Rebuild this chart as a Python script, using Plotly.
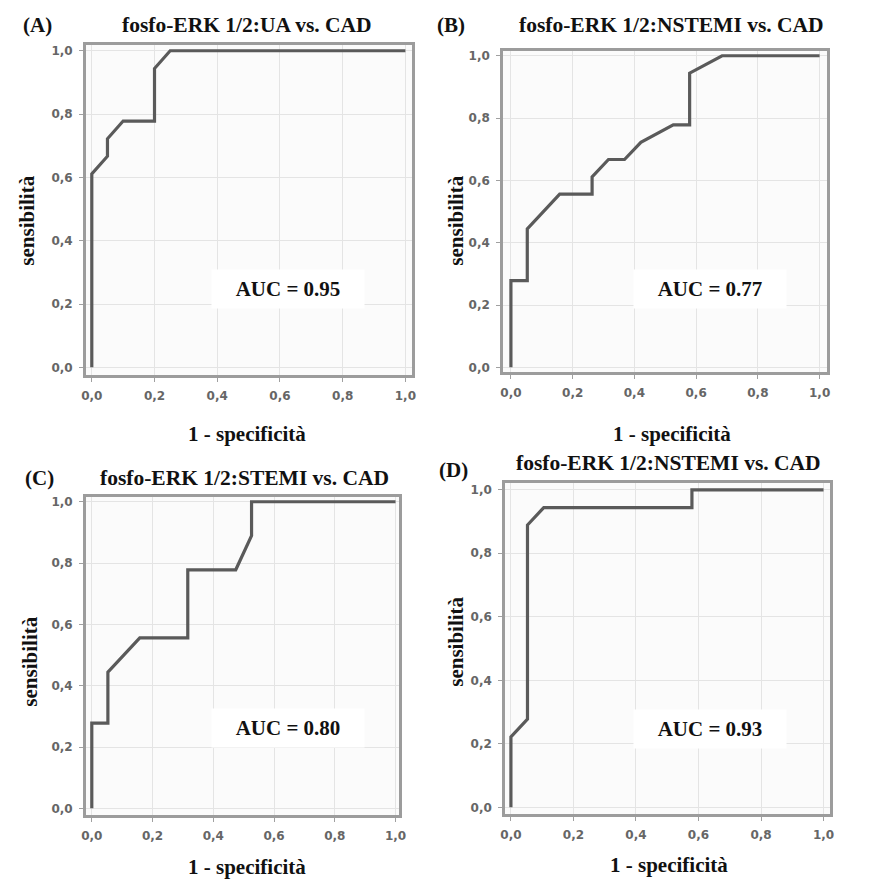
import plotly.graph_objects as go

W, H = 869, 882

# ROC curve data (1 - specificity, sensitivity)
fpr_a = [0, 0, 0.05, 0.05, 0.10, 0.20, 0.20, 0.25, 1.0]
tpr_a = [0, 0.611, 0.667, 0.722, 0.778, 0.778, 0.944, 1.0, 1.0]

fpr_b = [0, 0, 0.053, 0.053, 0.158, 0.263, 0.263, 0.316, 0.368, 0.421, 0.526, 0.579, 0.579, 0.684, 1.0]
tpr_b = [0, 0.278, 0.278, 0.444, 0.556, 0.556, 0.611, 0.667, 0.667, 0.722, 0.778, 0.778, 0.944, 1.0, 1.0]

fpr_c = [0, 0, 0.053, 0.053, 0.158, 0.316, 0.316, 0.474, 0.526, 0.526, 1.0]
tpr_c = [0, 0.278, 0.278, 0.444, 0.556, 0.556, 0.778, 0.778, 0.889, 1.0, 1.0]

fpr_d = [0, 0, 0.053, 0.053, 0.105, 0.579, 0.579, 1.0]
tpr_d = [0, 0.222, 0.278, 0.889, 0.944, 0.944, 1.0, 1.0]

panel_tags = ["(A)", "(B)", "(C)", "(D)"]
panel_titles = ["fosfo-ERK 1/2:UA vs. CAD", "fosfo-ERK 1/2:NSTEMI vs. CAD",
                "fosfo-ERK 1/2:STEMI vs. CAD", "fosfo-ERK 1/2:NSTEMI vs. CAD"]
auc_labels = ["AUC = 0.95", "AUC = 0.77", "AUC = 0.80", "AUC = 0.93"]
tick_vals = [0, 0.2, 0.4, 0.6, 0.8, 1.0]
tick_text = ["0,0", "0,2", "0,4", "0,6", "0,8", "1,0"]
x_title = "1 - specificità"
y_title = "sensibilità"

series = [(fpr_a, tpr_a), (fpr_b, tpr_b), (fpr_c, tpr_c), (fpr_d, tpr_d)]

# layout in pixels: box (left, right, top, bottom), x0px, x1px, y1px, y0px
boxes = [
    (82, 413, 43, 375, 88, 406, 49, 367),
    (505, 834, 49, 372, 513, 826, 54, 367),
    (82, 400, 497, 817, 88, 396, 502, 810),
    (507, 837, 483, 816, 513, 830, 490, 809),
]
tag_pos = [(33, 23), (452, 23), (35, 478), (455, 470)]
title_pos = [(245, 23), (676, 23), (243, 478), (673, 463)]
xtitle_pos = [(245, 434), (676, 434), (245, 869), (673, 867)]
ytitle_pos = [(22, 220), (457, 220), (25, 663), (457, 643)]
auc_pos = [(287, 288), (715, 288), (287, 729), (715, 730)]

fig = go.Figure()
serif = "Liberation Serif, Times New Roman, serif"
line_col = "#5a5a5a"
annotations = []

def px(x):
    return x / W

def py(y):
    return 1 - y / H

def ann(text, pos, size, **kw):
    return dict(text=text, x=px(pos[0]), y=py(pos[1]), xref="paper", yref="paper",
                xanchor="center", yanchor="middle", showarrow=False,
                font=dict(family=serif, size=size, color="#111", weight="bold"), **kw)

for i, ((xs, ys), b) in enumerate(zip(series, boxes)):
    n = "" if i == 0 else str(i + 1)
    L, R, T, B, x0, x1, y1, y0 = b
    sx = (x1 - x0)
    sy = (y0 - y1)
    xr = [-(x0 - L) / sx, 1 + (R - x1) / sx]
    yr = [-(B - y0) / sy, 1 + (y1 - T) / sy]
    fig.add_trace(go.Scatter(x=xs, y=ys, mode="lines",
                             line=dict(color=line_col, width=3.2),
                             xaxis="x" + n, yaxis="y" + n, showlegend=False,
                             hoverinfo="skip"))
    axcommon = dict(tickvals=tick_vals, ticktext=tick_text,
                    showgrid=True, gridcolor="#e4e4e4", gridwidth=1,
                    zeroline=False, showline=True, mirror=True,
                    linecolor="#9c9c9c", linewidth=2.5,
                    ticks="outside", ticklen=4, tickcolor="#a0a0a0",
                    ticklabelstandoff=4,
                    tickfont=dict(family="DejaVu Sans, Verdana, sans-serif",
                                  size=12, color="#666666", weight="bold"),
                    fixedrange=True)
    fig.update_layout(**{
        "xaxis" + n: dict(domain=[px(L), px(R)], range=xr, anchor="y" + n, **axcommon),
        "yaxis" + n: dict(domain=[py(B), py(T)], range=yr, anchor="x" + n, **axcommon),
    })
    annotations.append(ann(panel_tags[i], tag_pos[i], 21))
    annotations.append(ann(panel_titles[i], title_pos[i], 21.5))
    annotations.append(ann(x_title, xtitle_pos[i], 21))
    annotations.append(ann(y_title, ytitle_pos[i], 21, textangle=-90))
    annotations.append(ann(auc_labels[i], auc_pos[i], 21,
                           bgcolor="white", width=150, height=36))

fig.update_layout(width=W, height=H, margin=dict(l=0, r=0, t=0, b=0),
                  paper_bgcolor="white", plot_bgcolor="#fbfbfb",
                  annotations=annotations)

fig.write_html("out.html", config={"displayModeBar": False},
               post_script="document.body.style.margin='0';document.body.style.overflow='hidden';")
